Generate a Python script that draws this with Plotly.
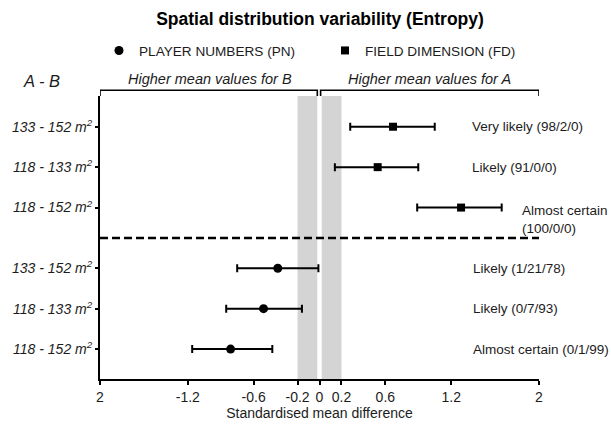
import plotly.graph_objects as go

# Comparisons (A - B) and their labels
pairs = ["133 - 152", "118 - 133", "118 - 152"]

# Field dimension effects: standardised mean difference with 90% CI
fd_mean = [0.67, 0.53, 1.29]
fd_low = [0.28, 0.14, 0.89]
fd_high = [1.05, 0.90, 1.66]
fd_text = ["Very likely (98/2/0)", "Likely (91/0/0)", "Almost certain<br>(100/0/0)"]

# Player number effects
pn_mean = [-0.38, -0.51, -0.81]
pn_low = [-0.75, -0.85, -1.16]
pn_high = [-0.01, -0.16, -0.43]
pn_text = ["Likely (1/21/78)", "Likely (0/7/93)", "Almost certain (0/1/99)"]

# Row positions on the vertical axis (top block FD, bottom block PN)
fd_rows = [6.5, 5.5, 4.5]
pn_rows = [3, 2, 1]
divider_y = 3.75

x_ticks = [-2, -1.2, -0.6, -0.2, 0, 0.2, 0.6, 1.2, 2]
x_ticktext = ["2", "-1.2", "-0.6", "-0.2", "0", "0.2", "0.6", "1.2", "2"]
trivial_band = [(-0.2, -0.02), (0.02, 0.2)]

FONT = "Liberation Sans, Arial, Helvetica, sans-serif"
INK = "#1c1c1c"

W, H = 611, 430
ML, MR, MT, MB = 99, 72, 96, 41
PW, PH = W - ML - MR, H - MT - MB


def px_x(px):
    return (px - ML) / PW


def px_y(py):
    return (H - MB - py) / PH


fig = go.Figure()

fig.add_trace(go.Scatter(
    x=pn_mean, y=pn_rows, mode="markers", name="PLAYER NUMBERS (PN)",
    marker=dict(symbol="circle", size=9, color="black"),
    error_x=dict(type="data", symmetric=False,
                 array=[h - m for h, m in zip(pn_high, pn_mean)],
                 arrayminus=[m - l for m, l in zip(pn_mean, pn_low)],
                 color="black", thickness=2, width=4),
))
fig.add_trace(go.Scatter(
    x=fd_mean, y=fd_rows, mode="markers", name="FIELD DIMENSION (FD)",
    marker=dict(symbol="square", size=8, color="black"),
    error_x=dict(type="data", symmetric=False,
                 array=[h - m for h, m in zip(fd_high, fd_mean)],
                 arrayminus=[m - l for m, l in zip(fd_mean, fd_low)],
                 color="black", thickness=2, width=4),
))

shapes = []
for x0, x1 in trivial_band:
    shapes.append(dict(type="rect", xref="x", yref="paper", x0=x0, x1=x1, y0=0, y1=1,
                       fillcolor="#d4d4d4", line=dict(width=0), layer="below"))
shapes.append(dict(type="line", xref="x", yref="y", x0=x_ticks[0], x1=x_ticks[-1],
                   y0=divider_y, y1=divider_y, line=dict(color="black", width=2.5, dash="8px,4px")))

# Brackets over each half of the axis
top = px_y(90)
foot = px_y(96)
for x0, x1 in [(-2, -0.02), (0.01, 2)]:
    shapes.append(dict(type="path", xref="x", yref="paper",
                       path=f"M {x0},{foot} L {x0},{top} L {x1},{top} L {x1},{foot}",
                       line=dict(color="black", width=1.6)))

annotations = []
for txt, y in zip(fd_text, fd_rows):
    two_line = "<br>" in txt
    annotations.append(dict(x=1.83 if two_line else 1.37, y=y, xref="x", yref="y",
                            text=txt, showarrow=False, xanchor="left", align="left",
                            yshift=-12 if two_line else 0,
                            font=dict(family=FONT, size=13.5, color=INK)))
for txt, y in zip(pn_text, pn_rows):
    annotations.append(dict(x=1.38, y=y, xref="x", yref="y", text=txt, showarrow=False,
                            xanchor="left", font=dict(family=FONT, size=13.5, color=INK)))

annotations += [
    dict(x=px_x(20), y=px_y(80), xref="paper", yref="paper", text="<i>A - B</i>",
         showarrow=False, xanchor="left", yanchor="middle",
         font=dict(family=FONT, size=16.5, color=INK)),
    dict(x=px_x(209), y=px_y(78), xref="paper", yref="paper",
         text="<i>Higher mean values for B</i>", showarrow=False,
         xanchor="center", yanchor="middle",
         font=dict(family=FONT, size=14.5, color=INK)),
    dict(x=px_x(429), y=px_y(78), xref="paper", yref="paper",
         text="<i>Higher mean values for A</i>", showarrow=False,
         xanchor="center", yanchor="middle",
         font=dict(family=FONT, size=14.5, color=INK)),
]

fig.update_layout(
    width=W, height=H,
    margin=dict(l=ML, r=MR, t=MT, b=MB),
    paper_bgcolor="white", plot_bgcolor="white",
    font=dict(family=FONT, color=INK),
    title=dict(text="<b>Spatial distribution variability (Entropy)</b>",
               x=320 / W, xanchor="center", y=1 - 19 / H, yanchor="middle",
               font=dict(family=FONT, size=17.5, color="black")),
    legend=dict(orientation="h", x=px_x(98), xanchor="left", y=px_y(49), yanchor="middle",
                font=dict(family=FONT, size=13.6, color=INK), entrywidth=181,
                entrywidthmode="pixels", bgcolor="rgba(0,0,0,0)"),
    shapes=shapes,
    annotations=annotations,
)

fig.update_xaxes(
    range=[-2, 2], tickvals=x_ticks, ticktext=x_ticktext,
    showgrid=False, zeroline=False, showline=True, linecolor="black", linewidth=2,
    ticks="outside", ticklen=4, tickwidth=2, tickcolor="black",
    tickfont=dict(family=FONT, size=14, color=INK),
    title=dict(text="Standardised mean difference", standoff=3,
               font=dict(family=FONT, size=14, color=INK)),
)

y_labels = [f"<i>{p} m<sup>2</sup></i>" for p in pairs]
fig.update_yaxes(
    range=[0.26, 7.26], tickvals=fd_rows + pn_rows, ticktext=y_labels + y_labels,
    showgrid=False, zeroline=False, showline=True, linecolor="black", linewidth=2,
    ticks="outside", ticklen=3, tickwidth=2, tickcolor="black",
    tickfont=dict(family=FONT, size=14, color=INK),
)

fig.write_html("out.html")
